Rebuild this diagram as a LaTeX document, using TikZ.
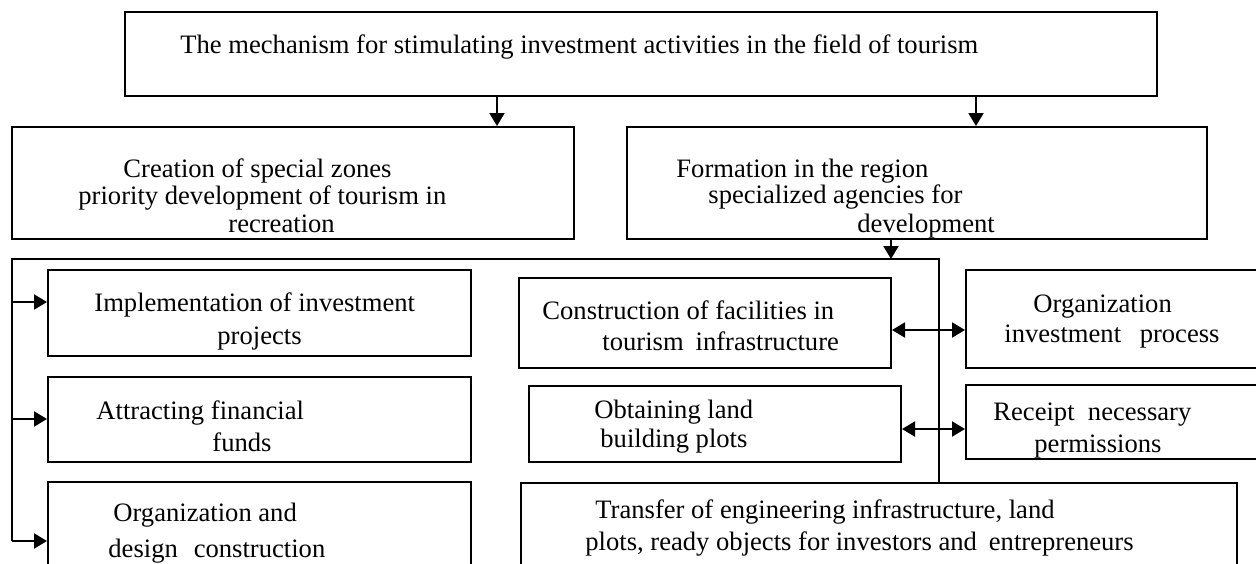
\documentclass[tikz,border=0pt]{standalone}
\usepackage{fontspec}
\setmainfont{Liberation Serif}
\usetikzlibrary{arrows.meta,fit}
\begin{document}
\begin{tikzpicture}[x=0.5pt,y=-0.5pt,
  box/.style={draw, line width=1pt, inner sep=0pt},
  txt/.style={anchor=base west, inner sep=0pt, font=\fontsize{13.3}{16}\selectfont},
  arr/.style={line width=1pt, -{Triangle[length=6.5pt,width=7.5pt]}},
  dbl/.style={line width=1pt, {Triangle[length=6.5pt,width=7.5pt]}-{Triangle[length=6.5pt,width=7.5pt]}},
  frameline/.style={line width=0.75pt}]
\useasboundingbox (0,0) rectangle (1256,563);
\fill[white] (0,0) rectangle (1256,563);
\clip (0,0) rectangle (1256,563);

% boxes
\node[box, fit={(125,12)(1157,96)}] (top) {};
\node[box, fit={(12,127)(574,239)}] (creation) {};
\node[box, fit={(627,127)(1207,239)}] (formation) {};
\node[box, fit={(48,270)(471,356)}] (impl) {};
\node[box, fit={(48,377)(471,462)}] (attr) {};
\node[box, fit={(48,482)(471,580)}] (orgd) {};
\node[box, fit={(519,278)(891,368)}] (constr) {};
\node[box, fit={(529,386)(901,462)}] (obtain) {};
\node[box, fit={(521,483)(1237,580)}] (transfer) {};
\node[box, fit={(966,270)(1270,368)}] (orginv) {};
\node[box, fit={(966,385)(1270,459)}] (receipt) {};

% texts
\node[txt] (t0) at (180,53) {The mechanism for stimulating investment activities in the field of tourism};
\node[txt] (t1a) at (123,177) {Creation of special zones};
\node[txt] (t1b) at (78,204) {priority development of tourism in};
\node[txt] (t1c) at (228,232) {recreation};
\node[txt] (t2a) at (676,177) {Formation in the region};
\node[txt] (t2b) at (708,203) {specialized agencies for};
\node[txt] (t2c) at (857,232) {development};
\node[txt] (t3a) at (94,311) {Implementation of investment};
\node[txt] (t3b) at (217,344) {projects};
\node[txt] (t4a) at (96,419) {Attracting financial};
\node[txt] (t4b) at (212,451) {funds};
\node[txt] (t5a) at (113,521) {Organization and};
\node[txt] (t5b) at (108,557) {design\hspace{0.6em}construction};
\node[txt] (t6a) at (542,319) {Construction of facilities in};
\node[txt] (t6b) at (602,350) {tourism\hspace{0.45em}infrastructure};
\node[txt] (t7a) at (594,418) {Obtaining land};
\node[txt] (t7b) at (600,447) {building plots};
\node[txt] (t8a) at (595,518) {Transfer of engineering infrastructure, land};
\node[txt] (t8b) at (585,550) {plots, ready objects for investors and\hspace{0.45em}entrepreneurs};
\node[txt] (t9a) at (1033,312) {Organization};
\node[txt] (t9b) at (1004,342) {investment\hspace{0.7em}process};
\node[txt] (t10a) at (993,420) {Receipt\hspace{0.5em}necessary};
\node[txt] (t10b) at (1034,452) {permissions};

% frame around the lower group
\coordinate (fTL) at (12,259);
\coordinate (fTR) at (939,259);
\coordinate (fBL) at (12,541);
\draw[frameline] (transfer.north -| fTR) -- (fTR) -- (fTL) -- (fBL);

% arrows from the top box
\coordinate (d1) at (497,0);
\coordinate (d2) at (976,0);
\coordinate (d3) at (891,0);
\draw[arr] (top.south -| d1) -- (creation.north -| d1);
\draw[arr] (top.south -| d2) -- (formation.north -| d2);
\draw[arr] (formation.south -| d3) -- (fTL -| d3);

% arrows from the frame to the left column
\coordinate (a1) at (12,302);
\coordinate (a2) at (12,419);
\draw[arr] (a1) -- (a1 -| impl.west);
\draw[arr] (a2) -- (a2 -| attr.west);
\draw[arr] (fBL) -- (fBL -| orgd.west);

% two-way links on the right
\coordinate (h1) at (0,330);
\coordinate (h2) at (0,429);
\draw[dbl] (constr.east |- h1) -- (orginv.west |- h1);
\draw[dbl] (obtain.east |- h2) -- (receipt.west |- h2);
\end{tikzpicture}
\end{document}
